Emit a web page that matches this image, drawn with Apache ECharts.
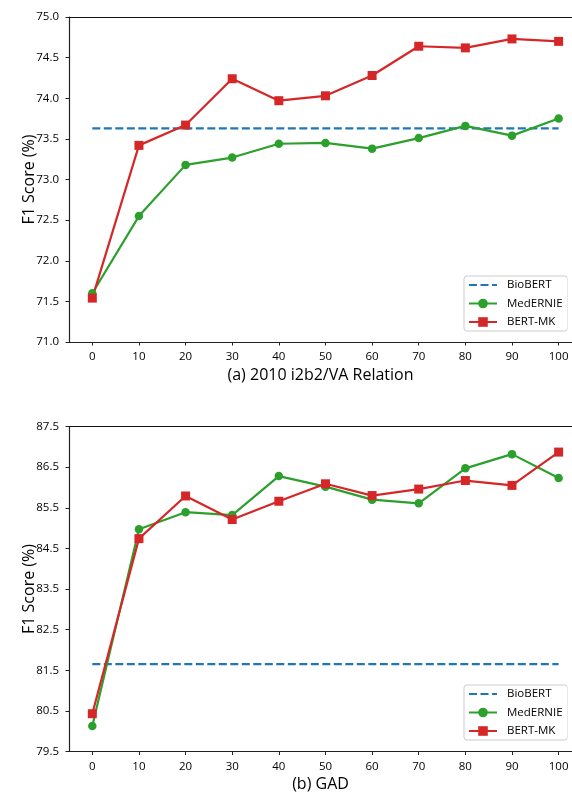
<!DOCTYPE html>
<html><head><meta charset="utf-8">
<script src="https://cdn.jsdelivr.net/npm/echarts@6/dist/echarts.min.js"></script>
<style>html,body{margin:0;padding:0;background:#fff}#c{width:572px;height:796px}</style>
</head><body><div id="c"></div>
<script>
const steps = [0,10,20,30,40,50,60,70,80,90,100];
const xTicks = [0,10,20,30,40,50,60,70,80,90,100];
// (a) 2010 i2b2/VA Relation
const bioBertA = 73.63;
const medErnieA = [71.60,72.55,73.18,73.27,73.44,73.45,73.38,73.51,73.66,73.54,73.75];
const bertMkA   = [71.54,73.42,73.67,74.24,73.97,74.03,74.28,74.64,74.62,74.73,74.70];
// (b) GAD
const bioBertB = 81.65;
const medErnieB = [80.13,84.97,85.39,85.32,86.28,86.02,85.70,85.61,86.47,86.82,86.23];
const bertMkB   = [80.43,84.74,85.79,85.21,85.66,86.09,85.80,85.96,86.17,86.05,86.87];
const yTicksA = [71.0,71.5,72.0,72.5,73.0,73.5,74.0,74.5,75.0];
const yTicksB = [79.5,80.5,81.5,82.5,83.5,84.5,85.5,86.5,87.5];
const titles = ['(a) 2010 i2b2/VA Relation','(b) GAD'];
const names = ['BioBERT','MedERNIE','BERT-MK'];

const FONT = 'Open Sans';
const BLUE='#1f77b4', GREEN='#2ca02c', RED='#d62728';
const X_MIN = -5, X_MAX = 102.87; // right part of the axis is cut off by the figure edge
const grids = [{left:69, top:17, right:0, height:325},{left:69, top:426.5, right:0, height:325}];

function xAxis(i){
  return {type:'value', gridIndex:i, min:X_MIN, max:X_MAX,
    name:titles[i], nameLocation:'middle', nameGap: 25, nameMoveOverlap:false,
    nameTextStyle:{fontFamily:FONT,fontSize:16,color:'#000'},
    axisLine:{show:true,onZero:false,lineStyle:{color:'#222',width:1.2}},
    axisTick:{show:true,length:3.5,lineStyle:{color:'#222'},customValues:xTicks},
    axisLabel:{fontFamily:FONT,fontSize:11.5,color:'#000',margin:9,customValues:xTicks},
    splitLine:{show:false}};
}
function yAxis(i, ticks){
  return {type:'value', gridIndex:i, min:ticks[0], max:ticks[ticks.length-1],
    name:'F1 Score (%)', nameLocation:'middle', nameGap:32, nameMoveOverlap:false,
    nameTextStyle:{fontFamily:FONT,fontSize:16,color:'#000'},
    axisLine:{show:true,onZero:false,lineStyle:{color:'#222',width:1.2}},
    axisTick:{show:true,length:3.5,lineStyle:{color:'#222'},customValues:ticks},
    axisLabel:{fontFamily:FONT,fontSize:11.5,color:'#000',margin:10,customValues:ticks,
      formatter:v=>v.toFixed(1)},
    splitLine:{show:false}};
}
function pairs(vals){ return steps.map((s,k)=>[s,vals[k]]); }
function series(i, bio, med, mk, yTop){
  return [
    {name:names[0], type:'line', xAxisIndex:i, yAxisIndex:i, data:[[steps[0],bio],[steps[steps.length-1],bio]],
      symbol:'none', lineStyle:{color:BLUE,width:2.2,type:[8,3.5]}, itemStyle:{color:BLUE},
      // top spine of the axes box
      markLine:{silent:true, symbol:'none', label:{show:false}, animation:false,
        lineStyle:{color:'#111',width:1,type:'solid'}, emphasis:{disabled:true},
        data:[{yAxis:yTop}]}},
    {name:names[1], type:'line', xAxisIndex:i, yAxisIndex:i, data:pairs(med),
      symbol:'circle', symbolSize:8.5, lineStyle:{color:GREEN,width:2.2}, itemStyle:{color:GREEN}},
    {name:names[2], type:'line', xAxisIndex:i, yAxisIndex:i, data:pairs(mk),
      symbol:'rect', symbolSize:9, lineStyle:{color:RED,width:2.2}, itemStyle:{color:RED}}
  ].map(s=>Object.assign(s,{animation:false, silent:true}));
}
function legend(top){
  return {left:464, top:top, orient:'vertical', itemWidth:28, itemHeight:12, itemGap:6.5,
    padding:[3,5,3,4], borderColor:'#ccc', borderWidth:1, borderRadius:3, backgroundColor:'#fff',
    textStyle:{fontFamily:FONT,fontSize:11.5,color:'#000',padding:[0,0,0,5]},
    data:[{name:names[0], itemStyle:{opacity:0}}, names[1], names[2]]};
}
const chart = echarts.init(document.getElementById('c'), null, {renderer:'canvas'});
chart.setOption({
  animation:false,
  grid: grids,
  xAxis:[xAxis(0), xAxis(1)],
  yAxis:[yAxis(0,yTicksA), yAxis(1,yTicksB)],
  legend:[legend(276), legend(685)],
  graphic: grids.map(g=>({type:'rect', right:0, top:g.top+1.5, zlevel:1, z:100,
    shape:{width:4.5, height:g.height-3}, style:{fill:'#fff'}, silent:true})),
  series:[...series(0,bioBertA,medErnieA,bertMkA,yTicksA[yTicksA.length-1]),
          ...series(1,bioBertB,medErnieB,bertMkB,yTicksB[yTicksB.length-1])]
});
</script></body></html>
